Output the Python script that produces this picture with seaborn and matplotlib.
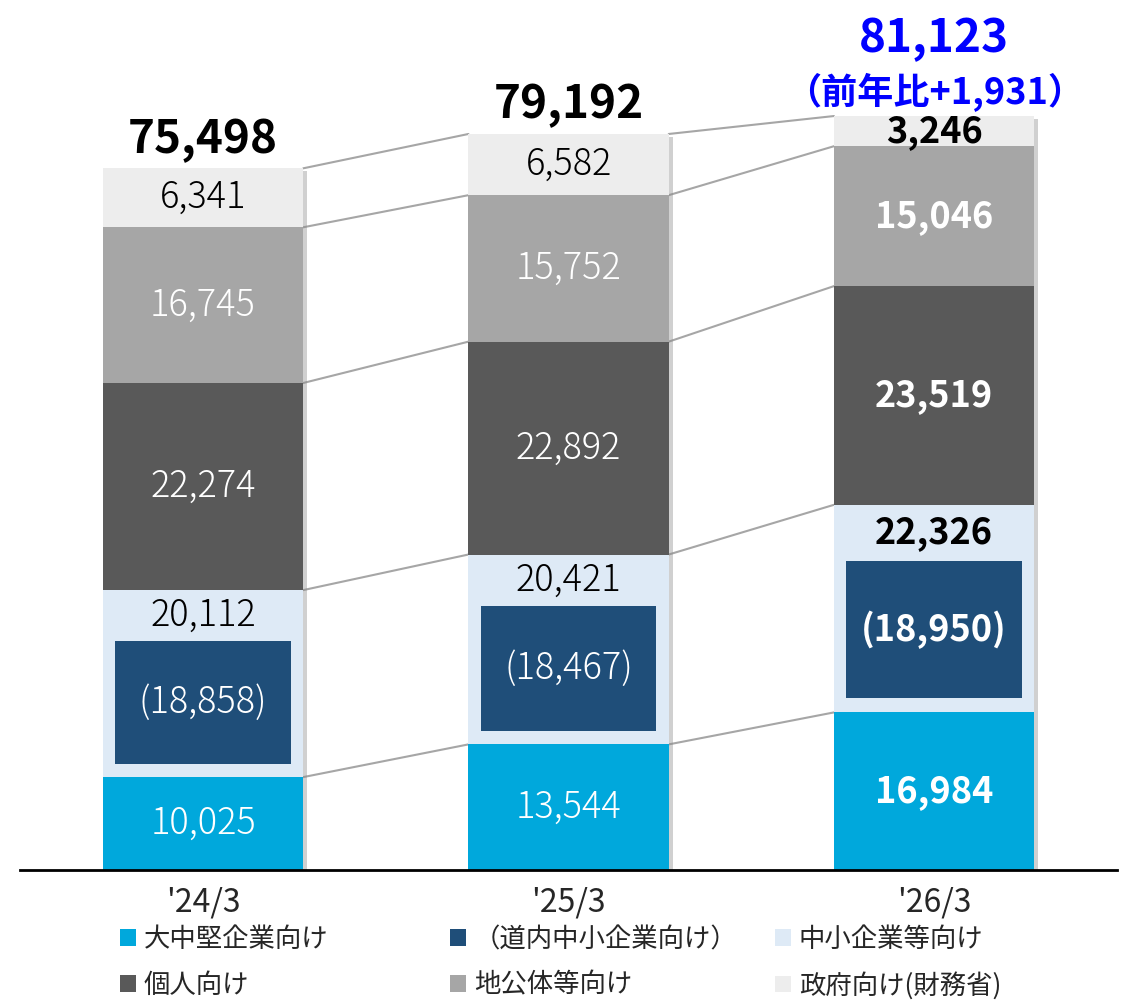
import pandas as pd
import matplotlib.pyplot as plt
import matplotlib.patheffects as pe
from matplotlib.patches import Patch
import seaborn as sns

# Data
periods = ["'24/3", "'25/3", "'26/3"]
large_mid = [10025, 13544, 16984]
sme = [20112, 20421, 22326]
sme_hokkaido = [18858, 18467, 18950]
individual = [22274, 22892, 23519]
local_gov = [16745, 15752, 15046]
government = [6341, 6582, 3246]
totals = [75498, 79192, 81123]
yoy_note = "（前年比+1,931）"

names = ["大中堅企業向け", "中小企業等向け", "個人向け", "地公体等向け", "政府向け(財務省)"]
inner_name = "（道内中小企業向け）"
colors = {"大中堅企業向け": "#00A8DC", "中小企業等向け": "#DEEAF6", "個人向け": "#595959",
          "地公体等向け": "#A6A6A6", "政府向け(財務省)": "#EDEDED", inner_name: "#1F4E79"}
text_colors = {"大中堅企業向け": "white", "中小企業等向け": "black", "個人向け": "white",
               "地公体等向け": "white", "政府向け(財務省)": "black"}

df = pd.DataFrame({"period": periods, names[0]: large_mid, names[1]: sme, names[2]: individual,
                   names[3]: local_gov, names[4]: government})
cum = df[names].cumsum(axis=1)
cum["period"] = periods

sns.set_style("white")
plt.rcParams["font.family"] = ["Noto Sans CJK JP", "DejaVu Sans"]

fig = plt.figure(figsize=(11.27, 10.05), dpi=100)
ax = fig.add_axes([0.018, 0.134, 0.973, 0.866])

bw = 0.548
# stacked bars: draw cumulative heights from the top layer down
for k, name in enumerate(reversed(names)):
    if name == names[0]:
        # inner box for 道内中小企業 inside the SME segment
        box = cum.copy()
        box["top"] = cum[names[0]] + df[names[1]] * 0.73
        box["bot"] = cum[names[0]] + df[names[1]] * 0.07
        sns.barplot(data=box, x="period", y="top", color=colors[inner_name], width=0.48,
                    saturation=1, errorbar=None, ax=ax, zorder=2, linewidth=0, edgecolor="none")
        sns.barplot(data=box, x="period", y="bot", color=colors[names[1]], width=bw,
                    saturation=1, errorbar=None, ax=ax, zorder=2, linewidth=0, edgecolor="none")
    sns.barplot(data=cum, x="period", y=name, color=colors[name], width=bw,
                saturation=1, errorbar=None, ax=ax, zorder=2, linewidth=0, edgecolor="none")
    if k == 0:
        for p in ax.patches:
            p.set_path_effects([pe.SimplePatchShadow(offset=(3, -2), shadow_rgbFace="#8a8a8a", alpha=0.4),
                                pe.Normal()])

# connector lines between bars
for i in range(len(periods) - 1):
    for name in names:
        ax.plot([i + bw / 2, i + 1 - bw / 2], [cum[name][i], cum[name][i + 1]],
                color="#A6A6A6", lw=1.5, zorder=1)

# segment labels
for i in range(len(periods)):
    weight = "bold" if i == 2 else "light"
    base = 0
    for name in names:
        v = df[name][i]
        y = base + v / 2
        if name == names[1]:
            y = base + v * 0.865
        ax.text(i, y, f"{v:,}", ha="center", va="center", fontsize=26, fontweight=weight,
                color=text_colors[name], zorder=4)
        if name == names[1]:
            ax.text(i, base + v * 0.40, f"({sme_hokkaido[i]:,})", ha="center", va="center",
                    fontsize=26, fontweight=weight, color="white", zorder=4)
        base += v

# totals
for i, t in enumerate(totals):
    top = cum[names[-1]][i]
    if i < 2:
        ax.annotate(f"{t:,}", (i, top), xytext=(0, 4), textcoords="offset points", ha="center",
                    va="bottom", fontsize=33, fontweight="bold", color="black")
    else:
        ax.annotate(yoy_note, (i, top), xytext=(0, 3), textcoords="offset points", ha="center",
                    va="bottom", fontsize=26, fontweight="bold", color="#0000FF")
        ax.annotate(f"{t:,}", (i, top), xytext=(0, 39), textcoords="offset points", ha="center",
                    va="bottom", fontsize=33, fontweight="bold", color="#0000FF")

ax.set_xlim(-0.5, 2.5)
ax.set_ylim(0, 93600)
ax.set_yticks([])
ax.set_xlabel("")
ax.set_ylabel("")
ax.tick_params(axis="x", length=0, pad=12, labelsize=23)
sns.despine(ax=ax, left=True)
ax.spines["bottom"].set_color("black")
ax.spines["bottom"].set_linewidth(2)
ax.spines["bottom"].set_zorder(5)

# legend, three columns of two rows
legend_cols = [[names[0], names[2]], [inner_name, names[3]], [names[1], names[4]]]
for x0, col in zip([120, 450, 775], legend_cols):
    handles = [Patch(facecolor=colors[n], edgecolor="none", label=n) for n in col]
    fig.legend(handles=handles, loc="upper left", bbox_to_anchor=(x0 / 1127, 1 - 926 / 1005),
               frameon=False, fontsize=19, handlelength=0.6, handleheight=0.6, handletextpad=0.3,
               labelspacing=0.7, borderpad=0, borderaxespad=0)

fig.savefig("out.png", dpi=100)
